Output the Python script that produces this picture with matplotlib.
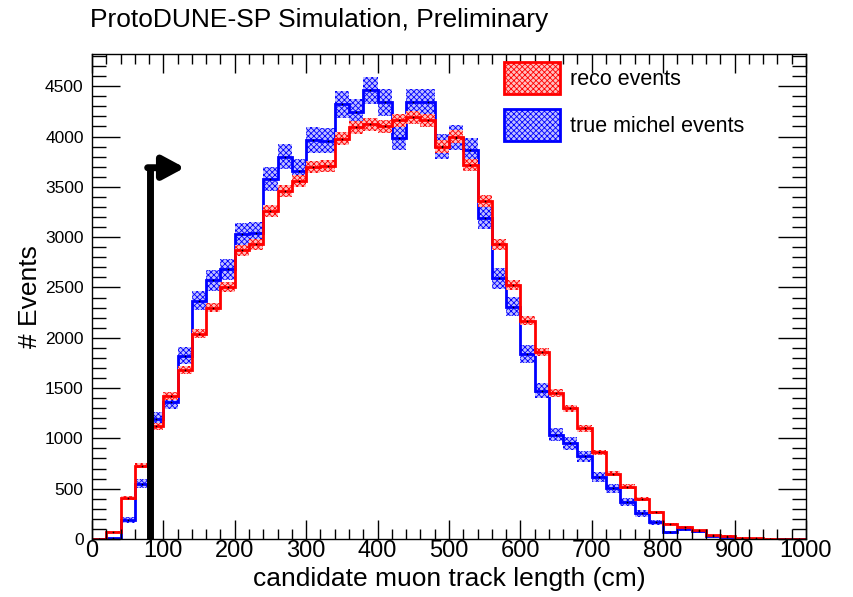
import numpy as np
import matplotlib
matplotlib.use("Agg")
import matplotlib.pyplot as plt
from matplotlib.patches import Patch
from matplotlib.ticker import MultipleLocator

plt.rcParams['font.family'] = ['Liberation Sans', 'DejaVu Sans']
plt.rcParams['hatch.linewidth'] = 0.6

# 50 bins of 20 cm, 0..1000 cm
edges = np.arange(0, 1001, 20)

reco = [0, 70, 410, 730, 1120, 1420, 1680, 2040, 2300, 2500,
        2870, 2930, 3260, 3460, 3560, 3700, 3710, 3980, 4090, 4120,
        4100, 4160, 4190, 4160, 3900, 4000, 3720, 3360, 2930, 2520,
        2170, 1860, 1450, 1300, 1100, 860, 650, 520, 400, 265,
        150, 120, 85, 36, 30, 13, 10, 3, 0, 0]
reco_err = [0, 8, 20, 27, 33, 38, 41, 45, 48, 50,
            54, 54, 57, 59, 60, 61, 61, 63, 64, 64,
            64, 64, 65, 64, 62, 63, 61, 58, 54, 50,
            47, 43, 38, 36, 33, 29, 25, 23, 20, 16,
            12, 11, 9, 6, 5, 4, 3, 2, 0, 0]

true_michel = [0, 5, 190, 550, 1190, 1365, 1820, 2370, 2570, 2680,
               3030, 3045, 3580, 3800, 3660, 3965, 3960, 4320, 4240, 4460,
               4340, 3990, 4340, 4340, 3905, 3990, 3865, 3190, 2590, 2310,
               1840, 1475, 1035, 950, 820, 620, 505, 370, 255, 165,
               65, 100, 75, 25, 17, 10, 3, 0, 0, 0]
true_err = [0, 4, 28, 47, 69, 74, 85, 97, 101, 104,
            110, 110, 120, 123, 121, 126, 126, 131, 130, 134,
            132, 126, 132, 132, 125, 126, 124, 113, 102, 96,
            86, 77, 64, 62, 57, 50, 45, 38, 32, 26,
            16, 20, 17, 10, 8, 6, 3, 0, 0, 0]

cut_x = 81      # track length cut (cm)
arrow_y = 3690

fig = plt.figure(figsize=(8.54, 5.97), dpi=100)
ax = fig.add_axes([0.1077, 0.0972, 0.836, 0.8123])

centers = 0.5 * (edges[:-1] + edges[1:])

def draw_hist(vals, errs, col, face):
    vals = np.array(vals, float)
    errs = np.array(errs, float)
    ax.stairs(vals + errs, edges, baseline=vals - errs, fill=True,
              facecolor=face, edgecolor=col, hatch='xxxxxx', linewidth=0)
    ax.stairs(vals, edges, color=col, linewidth=2.0)
    ax.plot(centers, vals, 'o', color='k', ms=1.2, mew=0)

draw_hist(true_michel, true_err, 'blue', (0.75, 0.75, 1.0))
draw_hist(reco, reco_err, 'red', (1.0, 0.75, 0.75))

# cut arrow
ax.plot([cut_x, cut_x], [0, arrow_y], color='k', lw=5, solid_capstyle='butt')
ax.annotate('', xy=(130, arrow_y), xytext=(cut_x - 3, arrow_y),
            arrowprops=dict(arrowstyle='-|>,head_length=0.65,head_width=0.35',
                            lw=5, color='k', mutation_scale=20,
                            shrinkA=0, shrinkB=0))

ax.set_xlim(0, 1000)
ax.set_ylim(0, 4820)

ax.xaxis.set_major_locator(MultipleLocator(100))
ax.xaxis.set_minor_locator(MultipleLocator(20))
ax.yaxis.set_major_locator(MultipleLocator(500))
ax.yaxis.set_minor_locator(MultipleLocator(100))
ax.tick_params(axis='x', which='both', direction='in', top=True, bottom=True,
               labelsize=17, pad=1)
ax.tick_params(axis='y', which='both', direction='in', left=True, right=True,
               labelsize=12.5, pad=6)
ax.tick_params(axis='x', which='major', length=14, width=1)
ax.tick_params(axis='x', which='minor', length=7, width=1)
ax.tick_params(axis='y', which='major', length=20, width=1)
ax.tick_params(axis='y', which='minor', length=10, width=1)
for s in ax.spines.values():
    s.set_linewidth(1.0)

ax.set_xlabel('candidate muon track length (cm)', fontsize=19, labelpad=3)
ax.set_ylabel('# Events', fontsize=19, labelpad=2)

fig.text(90 / 854, 1 - 20 / 597, 'ProtoDUNE-SP Simulation, Preliminary',
         fontsize=19, va='center', ha='left')

handles = [Patch(facecolor=(1.0, 0.75, 0.75), edgecolor='red', hatch='xxxxxx', lw=2),
           Patch(facecolor=(0.75, 0.75, 1.0), edgecolor='blue', hatch='xxxxxx', lw=2)]
ax.legend(handles, ['reco events', 'true michel events'], loc='upper left',
          bbox_to_anchor=(0.577, 0.984), frameon=False, fontsize=15.5,
          borderpad=0, borderaxespad=0,
          handlelength=2.6, handleheight=1.9, labelspacing=0.7,
          handletextpad=0.47)

fig.savefig('out.png', dpi=100)
